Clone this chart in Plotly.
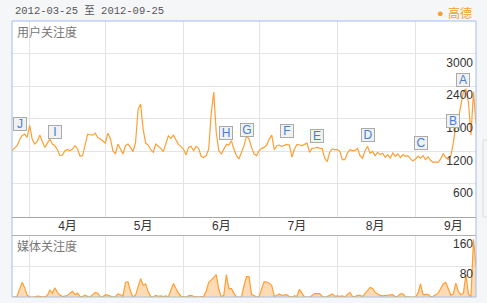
import pandas as pd
import plotly.graph_objects as go

# ---------------- data ----------------
dates = pd.date_range("2012-03-25", "2012-09-25", freq="D")

user_attention = [
    1212, 1261, 1304, 1413, 1486, 1517, 1456, 1680, 1426, 1334,
    1377, 1499, 1395, 1273, 1352, 1426, 1334, 1304, 1231, 1121,
    1133, 1212, 1230, 1212, 1243, 1304, 1243, 1109, 1121, 1334,
    1517, 1505, 1499, 1535, 1456, 1426, 1395, 1352, 1535, 1438,
    1212, 1151, 1334, 1255, 1151, 1304, 1334, 1273, 1194, 1365,
    1974, 2070, 1608, 1352, 1316, 1230, 1182, 1334, 1292, 1255,
    1194, 1334, 1486,
    1438, 1499, 1413, 1328, 1286, 1243, 1133, 1273, 1292, 1212,
    1292, 1255, 1109, 1085, 1121, 1243, 1900, 2290, 1547, 1212,
    1151, 1255, 1328, 1316, 1395, 1243, 1121, 1060, 1182, 1304,
    1486, 1426, 1273, 1151, 1121, 1212, 1255, 1273, 1316, 1426,
    1499, 1230, 1304, 1316, 1292, 1316, 1328, 1316, 1091, 1243,
    1328, 1316, 1304, 1328, 1352, 1182, 1255, 1261, 1273,
    1260, 1250, 1072, 1011, 1182, 1243, 1230, 1230, 1200, 1048,
    1048, 1170, 1230, 1212, 1212, 1255, 1121, 1072, 1212, 1292,
    1164, 1200, 1121, 1182, 1140, 1164, 1091, 1140, 1072, 1170,
    1109, 1152, 1085, 1140, 1109, 1121, 1060, 1024, 1060, 1109,
    1072, 1121, 1048, 1097, 1036, 999, 1005, 999, 1060, 1160,
    1085, 1050, 1120, 1350, 1700, 1800, 2050, 2300, 2350, 2100,
    1500, 2300, 1700,
]

media_attention = [
    0, 0, 2, 20, 38, 25, 5, 0, 0, 0,
    2, 1, 0, 0, 4, 18, 10, 24, 12, 5,
    1, 2, 4, 10, 15, 6, 10, 1, 1, 5,
    1, 0, 6, 12, 10, 1, 0, 6, 5, 2,
    0, 1, 8, 6, 2, 38, 40, 15, 0, 5,
    25, 48, 30, 34, 14, 1, 0, 4, 2, 3,
    1, 3, 0, 20, 35, 22, 10, 2, 0, 0,
    3, 4, 2, 0, 0, 1, 1, 15, 38, 44,
    50, 58, 20, 0, 5, 58, 22, 22, 10, 0,
    0, 0, 30, 53, 53, 6, 4, 0, 2, 22,
    40, 39, 36, 30, 2, 4, 8, 4, 5, 6,
    1, 0, 3, 2, 20, 8, 0, 0, 0, 4,
    9, 9, 9, 2, 0, 1, 5, 8, 2, 3,
    2, 3, 0, 6, 12, 2, 1, 4, 4, 1,
    10, 16, 25, 22, 12, 8, 4, 3, 4, 5,
    5, 6, 1, 2, 8, 8, 1, 0, 0, 0,
    0, 10, 34, 6, 7, 7, 1, 2, 6, 10,
    22, 34, 38, 20, 5, 8, 36, 15, 6, 10,
    58, 8, 0, 150, 80,
]

event_labels = ["J", "I", "H", "G", "F", "E", "D", "C", "B", "A"]
event_dates = ["2012-03-28", "2012-04-11", "2012-06-18", "2012-06-26", "2012-07-12",
               "2012-07-24", "2012-08-13", "2012-09-03", "2012-09-16", "2012-09-20"]
event_levels = [1700, 1550, 1530, 1590, 1570, 1480, 1510, 1350, 1750, 2510]

month_tick_dates = ["2012-04-16", "2012-05-16", "2012-06-16",
                    "2012-07-16", "2012-08-16", "2012-09-16"]
month_tick_text = ["4月", "5月", "6月", "7月", "8月", "9月"]

user_ticks = [600, 1200, 1800, 2400, 3000]
media_ticks = [80, 160]
user_range = [0, 3600]
media_range = [0, 160]

series_name = "高德"
date_range_text = "2012-03-25 至 2012-09-25"
top_title = "用户关注度"
bottom_title = "媒体关注度"

# ---------------- style ----------------
W, H = 487, 303
ML, MR, MT, MB = 12, 11, 21, 6
PW, PH = W - ML - MR, H - MT - MB


def px_x(px):
    return (px - ML) / PW


def px_y(py):
    return (H - MB - py) / PH


ORANGE = "#ff9f33"
GRID = "#e4e4e4"
FONT = "Liberation Sans, Noto Sans CJK SC, sans-serif"
TOP_BOTTOM = px_y(216.5)
LOW_TOP = px_y(235.5)

fig = go.Figure()

fig.add_trace(go.Scatter(
    x=dates, y=user_attention, mode="lines", name=series_name,
    line=dict(color=ORANGE, width=1.2), xaxis="x", yaxis="y", showlegend=False,
))
fig.add_trace(go.Scatter(
    x=dates, y=media_attention, mode="lines", name=series_name,
    line=dict(color=ORANGE, width=1.2), fill="tozeroy",
    fillcolor="rgba(253,190,120,0.55)", xaxis="x2", yaxis="y2", showlegend=False,
))
# helper subplot that only carries the value labels of the upper chart
fig.add_trace(go.Scatter(x=[], y=[], xaxis="x3", yaxis="y3", showlegend=False,
                         hoverinfo="skip"))

xcommon = dict(
    type="date", range=[dates[0], dates[-1]],
    tickvals=month_tick_dates, ticktext=month_tick_text,
    showgrid=False, zeroline=False, ticks="",
    minor=dict(dtick="M1", tick0="2012-04-01", showgrid=True,
               gridcolor=GRID, gridwidth=1, ticks=""),
)

fig.update_layout(
    width=W, height=H,
    margin=dict(l=ML, r=MR, t=MT, b=MB, pad=0),
    paper_bgcolor="#f5f6f8",
    plot_bgcolor="rgba(0,0,0,0)",
    font=dict(family=FONT, size=12, color="#333"),
    xaxis=dict(**xcommon, domain=[0, 1], anchor="y",
               showline=True, linecolor="#a6a6a6", linewidth=1,
               ticklabelstandoff=-2,
               tickfont=dict(size=12, color="#333")),
    yaxis=dict(domain=[TOP_BOTTOM, 1], range=user_range, tickvals=user_ticks,
               side="right", anchor="x", showticklabels=False,
               showgrid=True, gridcolor=GRID, zeroline=False, showline=False,
               ticks=""),
    xaxis3=dict(domain=[0, 1], anchor="y3", visible=False, range=[0, 1]),
    yaxis3=dict(domain=[TOP_BOTTOM, 1], range=user_range, tickvals=user_ticks,
                side="right", anchor="x3",
                ticklabelposition="inside", ticklabelshift=9,
                showgrid=False, zeroline=False, showline=False,
                ticks="", tickfont=dict(size=12, color="#333")),
    xaxis2=dict(**xcommon, domain=[0, 1], anchor="y2",
                matches="x", showticklabels=False, showline=False),
    yaxis2=dict(domain=[0, LOW_TOP], range=media_range, tickvals=media_ticks,
                side="right", anchor="x2",
                ticklabelposition="inside", ticklabelshift=8,
                showgrid=True, gridcolor=GRID, zeroline=False, showline=False,
                ticks="", tickfont=dict(size=12, color="#333")),
    showlegend=False,
)

shapes = [
    # white chart panel
    dict(type="rect", xref="paper", yref="paper", x0=0, x1=1, y0=0, y1=1,
         fillcolor="white", line=dict(width=0), layer="below"),
    # top border of the media chart
    dict(type="line", xref="paper", yref="paper", x0=0, x1=1,
         y0=LOW_TOP, y1=LOW_TOP, line=dict(color="#b0b0b0", width=1)),
    # blue frame
    dict(type="rect", xref="paper", yref="paper", x0=0, x1=1, y0=0, y1=1,
         line=dict(color="#a3bcee", width=1), fillcolor="rgba(0,0,0,0)"),
    # faint side panel edge
    dict(type="rect", xref="paper", yref="paper", x0=px_x(483), x1=px_x(495),
         y0=px_y(217), y1=px_y(140), line=dict(color="#dedede", width=1),
         fillcolor="rgba(0,0,0,0)"),
]
fig.update_layout(shapes=shapes)

annotations = [
    dict(xref="paper", yref="paper", x=px_x(13), y=px_y(11), xanchor="left",
         yanchor="middle", text=date_range_text, showarrow=False,
         font=dict(family="Liberation Mono, Noto Sans CJK SC, monospace",
                   size=10.5, color="#555")),
    dict(xref="paper", yref="paper", x=px_x(440), y=px_y(13), xanchor="center",
         yanchor="middle", text="●", showarrow=False,
         font=dict(size=11, color="#f7a030")),
    dict(xref="paper", yref="paper", x=px_x(446), y=px_y(12), xanchor="left",
         yanchor="middle", text=series_name, showarrow=False,
         font=dict(family="Noto Sans CJK SC", size=12, color="#f0a030")),
    dict(xref="paper", yref="paper", x=px_x(15), y=px_y(31), xanchor="left",
         yanchor="middle", text=top_title, showarrow=False,
         font=dict(family="Noto Sans CJK SC", size=12, color="#777")),
    dict(xref="paper", yref="paper", x=px_x(15), y=px_y(245), xanchor="left",
         yanchor="middle", text=bottom_title, showarrow=False,
         font=dict(family="Noto Sans CJK SC", size=12, color="#777")),
]
for lab, d, lv in zip(event_labels, event_dates, event_levels):
    annotations.append(dict(
        xref="x", yref="y", x=d, y=lv, text=lab, showarrow=False,
        xanchor="center", yanchor="middle", width=12, height=12,
        bgcolor="#f1f1f1", bordercolor="#aaaaaa", borderwidth=1, borderpad=0,
        font=dict(family="Liberation Sans", size=12, color="#3f7fd6"),
    ))
fig.update_layout(annotations=annotations)

fig.write_html("out.html")
